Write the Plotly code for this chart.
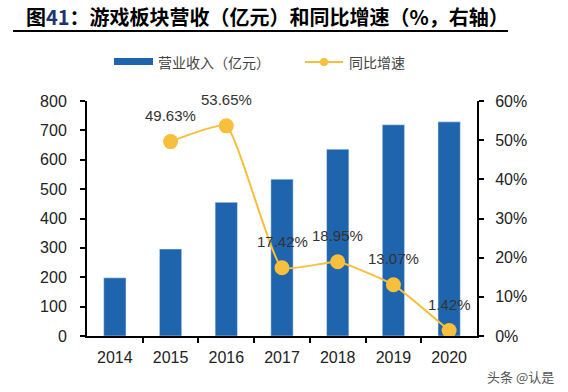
import plotly.graph_objects as go

years = [2014, 2015, 2016, 2017, 2018, 2019, 2020]
year_labels = ["2014", "2015", "2016", "2017", "2018", "2019", "2020"]
revenue = [198, 296, 455, 534, 636, 719, 729]
growth_years = [2015, 2016, 2017, 2018, 2019, 2020]
growth = [49.63, 53.65, 17.42, 18.95, 13.07, 1.42]
growth_labels = ["49.63%", "53.65%", "17.42%", "18.95%", "13.07%", "1.42%"]
left_ticks = [0, 100, 200, 300, 400, 500, 600, 700, 800]
right_ticks = [0, 10, 20, 30, 40, 50, 60]
right_tick_text = ["0%", "10%", "20%", "30%", "40%", "50%", "60%"]

BLUE = "#1F65AD"
GOLD = "#F7BF3B"
FONT = "Liberation Sans, Arial, sans-serif"
CJK = "Noto Sans CJK SC"

# plot area geometry (pixels)
L, R, T, B = 87, 477, 101, 336
PW, PH = R - L, B - T


def px(x):
    return (x - L) / PW


def py(y):
    return (B - y) / PH


fig = go.Figure()
fig.add_trace(go.Bar(x=years, y=revenue, marker_color=BLUE, width=0.4,
                     name="营业收入（亿元）", showlegend=False))
fig.add_trace(go.Scatter(x=growth_years, y=growth, yaxis="y2", mode="lines+markers",
                         line=dict(color=GOLD, width=2, shape="spline", smoothing=0.4),
                         marker=dict(color=GOLD, size=15),
                         name="同比增速", showlegend=False))

for x, y, t in zip(growth_years, growth, growth_labels):
    fig.add_annotation(x=x, y=y, xref="x", yref="y2", text=t, showarrow=False, yshift=26,
                       font=dict(family=FONT, size=15, color="#333333"))

# Title
fig.add_annotation(xref="paper", yref="paper", x=px(24), y=py(16), xanchor="left", yanchor="middle",
                   text="<b>图<span style='color:#1E3370'>41</span>：游戏板块营收（亿元）和同比增速（%，右轴）</b>",
                   showarrow=False, font=dict(family=CJK, size=20, color="#000000"))
fig.add_shape(type="line", xref="paper", yref="paper", x0=px(13), x1=px(508),
              y0=py(31), y1=py(31), line=dict(color="#000000", width=2))

# custom legend
fig.add_shape(type="rect", xref="paper", yref="paper",
              x0=px(114), x1=px(153), y0=py(65), y1=py(58), line=dict(width=0), fillcolor=BLUE)
fig.add_annotation(xref="paper", yref="paper", x=px(156), y=py(62), xanchor="left", yanchor="middle",
                   text="营业收入（亿元）", showarrow=False,
                   font=dict(family=CJK, size=14, color="#444444"))
fig.add_shape(type="line", xref="paper", yref="paper",
              x0=px(305), x1=px(343), y0=py(62), y1=py(62), line=dict(color=GOLD, width=2))
fig.add_shape(type="circle", xref="paper", yref="paper",
              x0=px(320), x1=px(328), y0=py(66), y1=py(58), line=dict(width=0), fillcolor=GOLD)
fig.add_annotation(xref="paper", yref="paper", x=px(347), y=py(62), xanchor="left", yanchor="middle",
                   text="同比增速", showarrow=False,
                   font=dict(family=CJK, size=14, color="#444444"))

# watermark
fig.add_annotation(xref="paper", yref="paper", x=px(556), y=py(376), xanchor="right", yanchor="middle",
                   text="头条 @认是", showarrow=False,
                   font=dict(family=CJK, size=13, color="#555555"))

fig.update_layout(
    width=568, height=392,
    margin=dict(l=L, r=568 - R, t=T, b=392 - B),
    paper_bgcolor="white", plot_bgcolor="white",
    font=dict(family=FONT, size=16, color="#222222"),
    xaxis=dict(range=[2013.5, 2020.5], tickvals=years, ticktext=year_labels,
               showline=True, linecolor="#000000", linewidth=2, ticklabelstandoff=6,
               ticks="", showgrid=False, zeroline=False, tickfont=dict(size=16),
               minor=dict(tickvals=[2014.5, 2015.5, 2016.5, 2017.5, 2018.5, 2019.5],
                          ticks="outside", ticklen=5, tickcolor="#000000", tickwidth=1.5,
                          showgrid=False)),
    yaxis=dict(range=[0, 800], tickvals=left_ticks, showline=True, linecolor="#000000",
               linewidth=2, ticks="outside", ticklen=5, tickcolor="#000000", tickwidth=1.5,
               ticklabelstandoff=10,
               showgrid=False, zeroline=False, tickfont=dict(size=16)),
    yaxis2=dict(range=[0, 60], tickvals=right_ticks, ticktext=right_tick_text,
                overlaying="y", side="right", showline=True, linecolor="#000000",
                linewidth=2, ticks="outside", ticklen=5, tickcolor="#000000", tickwidth=1.5,
                ticklabelstandoff=8,
                showgrid=False, zeroline=False, tickfont=dict(size=16)),
)

fig.write_html("out.html")
